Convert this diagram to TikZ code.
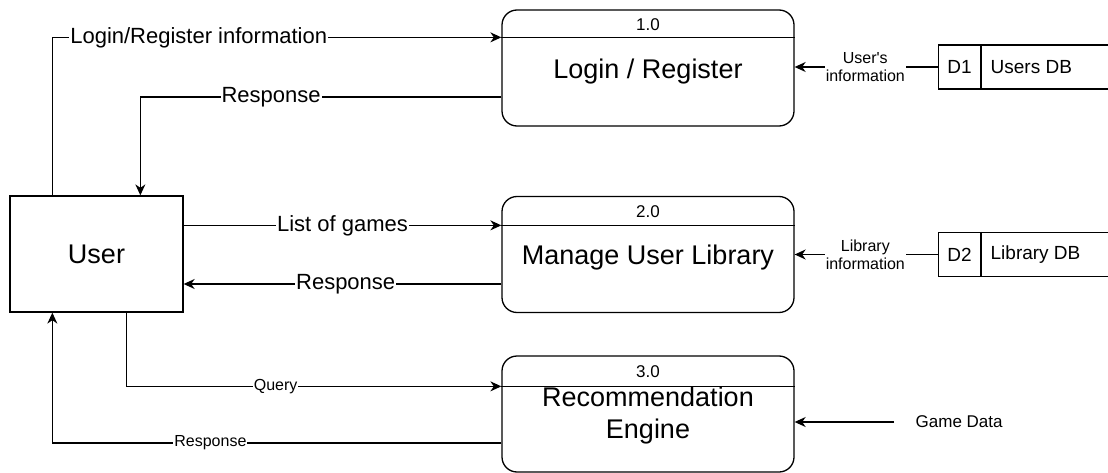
\documentclass[tikz,border=0pt]{standalone}
\usepackage{fontspec}
\setmainfont{Liberation Sans}
\usetikzlibrary{arrows.meta,calc}

\begin{document}
\begin{tikzpicture}[x=1pt,y=-1pt,
  line width=1.3pt,
  proc/.style={draw, rounded corners=15pt, minimum width=292pt, minimum height=116pt, inner sep=0pt},
  entity/.style={draw, minimum width=173pt, minimum height=116pt, inner sep=0pt, font=\fontsize{27}{32}\selectfont},
  title/.style={font=\fontsize{27}{32}\selectfont, align=center, inner sep=0pt},
  pnum/.style={font=\fontsize{17}{20}\selectfont, inner sep=0pt},
  flow/.style={-{Stealth[length=11pt,width=10pt,inset=3.5pt]}},
  lbl/.style={fill=white, inner sep=1pt, font=\fontsize{22}{26}\selectfont},
  slbl/.style={fill=white, inner sep=1pt, font=\fontsize{16}{18}\selectfont, align=center},
  store/.style={draw, minimum width=200pt, minimum height=44pt, inner sep=0pt, anchor=west},
  stxt/.style={font=\fontsize{19}{22}\selectfont, inner sep=0pt},
]
\useasboundingbox (0,0) rectangle (1108,473);
\clip (0,0) rectangle (1108,473);

% external entity
\node[entity] (user) at (96.5,254) {User};

% processes
\node[proc] (p1) at (648,68) {};
\node[proc] (p2) at (648,254.5) {};
\node[proc] (p3) at (648,414) {};

\coordinate (h1w) at ($(p1.north west)+(0,28)$);
\coordinate (h1e) at ($(p1.north east)+(0,28)$);
\coordinate (h2w) at ($(p2.north west)+(0,29.5)$);
\coordinate (h2e) at ($(p2.north east)+(0,29.5)$);
\coordinate (h3w) at ($(p3.north west)+(0,31)$);
\coordinate (h3e) at ($(p3.north east)+(0,31)$);
\draw (h1w) -- (h1e);
\draw (h2w) -- (h2e);
\draw (h3w) -- (h3e);

\node[pnum] (n1) at ($(p1.north)+(0,15)$) {1.0};
\node[pnum] (n2) at ($(p2.north)+(0,16)$) {2.0};
\node[pnum] (n3) at ($(p3.north)+(0,16)$) {3.0};

\node[title] (t1) at (648,72) {Login / Register};
\node[title] (t2) at (648,258) {Manage User Library};
\node[title] (t3) at (648,416) {Recommendation\\Engine};

% data stores
\node[store] (d1) at (938,67) {};
\draw ($(d1.north west)+(43,0)$) -- ($(d1.south west)+(43,0)$);
\node[stxt] (d1id) at (959.5,67) {D1};
\node[stxt, anchor=west] (d1name) at (990,67) {Users DB};

\node[store] (d2) at (938,254.5) {};
\draw ($(d2.north west)+(43,0)$) -- ($(d2.south west)+(43,0)$);
\node[stxt] (d2id) at (959.5,254.5) {D2};
\node[stxt, anchor=west] (d2name) at (990,254.5) {Library DB};

% flows between user and processes
\draw[flow] ($(user.north west)+(43,0)$) |- (h1w)
  node[lbl, pos=0.663] (l1) {Login/Register information};
\draw[flow] ($(p1.west)+(0,29)$) -| ($(user.north west)+(131,0)$)
  node[lbl, pos=0.319] (l2) {Response};

\draw[flow] (user.east |- h2w) -- (h2w)
  node[lbl, midway] (l3) {List of games};
\coordinate (r2s) at ($(p2.west)+(0,29.5)$);
\draw[flow] (r2s) -- (r2s -| user.east)
  node[lbl, pos=0.49] (l4) {Response};

\draw[flow] ($(user.south west)+(117,0)$) |- (h3w)
  node[slbl, pos=0.699] (l5) {Query};
\draw[flow] ($(p3.west)+(0,29)$) -| ($(user.south west)+(43,0)$)
  node[slbl, pos=0.324] (l6) {Response};

% flows from stores
\draw[flow] (d1.west) -- (d1.west -| p1.east)
  node[slbl, pos=0.507] (l7) {User\textquotesingle s\\information};
\draw[flow] (d2.west) -- (d2.west -| p2.east)
  node[slbl, pos=0.507] (l8) {Library\\information};

% game data source
\node[inner sep=0pt, font=\fontsize{17}{20}\selectfont, anchor=west] (gd) at (915,422) {Game Data};
\coordinate (gds) at ($(gd.west)+(-21,0)$);
\draw[flow] (gds) -- (gds -| p3.east);
\end{tikzpicture}
\end{document}
